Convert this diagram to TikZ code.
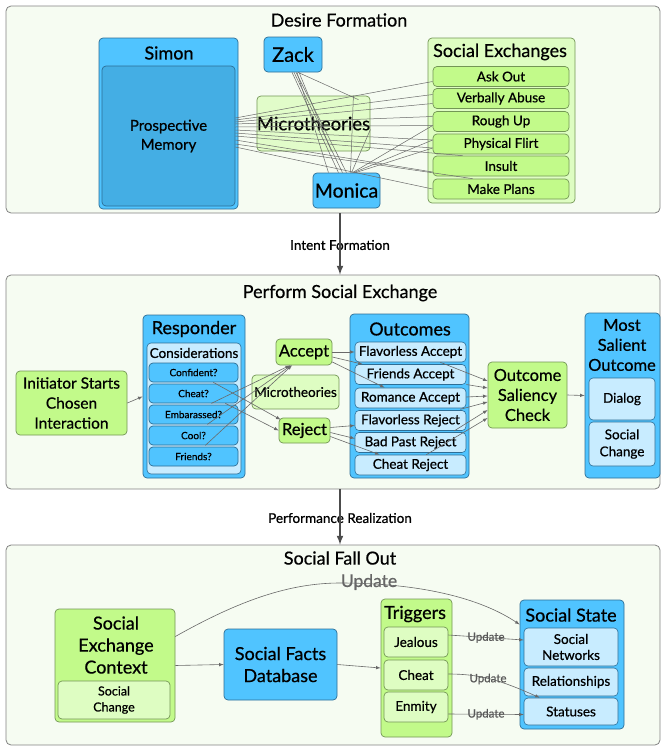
\documentclass[tikz,border=0pt]{standalone}
\usepackage{fontspec}
\setmainfont{Lato}[FakeBold=0.6]
\usepackage{tikz}

\definecolor{panelfill}{RGB}{246,252,242}
\definecolor{framegray}{RGB}{130,130,130}
\definecolor{skyblue}{RGB}{80,196,255}
\definecolor{deepblue}{RGB}{68,174,228}
\definecolor{paleblue}{RGB}{200,236,255}
\definecolor{blueedge}{RGB}{45,110,150}
\definecolor{limegreen}{RGB}{194,250,138}
\definecolor{palegreen}{RGB}{222,253,194}
\definecolor{greenedge}{RGB}{115,150,85}
\definecolor{wiregray}{RGB}{105,105,105}

\newcommand{\fsz}[2]{\fontsize{#1}{#2}\selectfont}

\begin{document}
\begin{tikzpicture}[x=1pt, y=-1pt,
  every node/.style={inner sep=0pt, align=center},
  panel/.style={draw=framegray, fill=panelfill, rounded corners=5pt, line width=0.8pt},
  bluebox/.style={draw=blueedge, fill=skyblue, rounded corners=4pt, line width=0.7pt},
  darkbox/.style={draw=blueedge, fill=deepblue, rounded corners=4pt, line width=0.7pt},
  paleblbox/.style={draw=blueedge, fill=paleblue, rounded corners=4pt, line width=0.6pt},
  greenbox/.style={draw=greenedge, fill=limegreen, rounded corners=4pt, line width=0.7pt},
  palegrbox/.style={draw=greenedge, fill=palegreen, rounded corners=4pt, line width=0.7pt},
  head/.style={font=\fsz{18}{20}},
  wire/.style={draw=wiregray, line width=0.5pt},
  flow/.style={draw=wiregray, line width=0.6pt, -latex},
  phase/.style={draw=black!70, line width=2pt, -latex},
  upd/.style={font=\fsz{11.5}{12}, text=black!65}]

\useasboundingbox (0,0) rectangle (665,750);

% ---- Desire Formation
\node[panel, minimum width=654pt, minimum height=207pt] (P1) at (333,109.5) {};
\node[head] (P1T) at (339,20) {Desire Formation};

\node[bluebox, minimum width=139pt, minimum height=171pt] (simon) at (168.5,123.5) {};
\node[head] (simonT) at (169,53) {Simon};
\node[darkbox, minimum width=133pt, minimum height=140pt, font=\fsz{15}{19}] (memory) at (168.5,136) {Prospective\\Memory};

\node[bluebox, minimum width=58pt, minimum height=35pt, font=\fsz{20}{20}] (zack) at (293,54.5) {Zack};
\node[palegrbox, fill opacity=0.85, text opacity=1, minimum width=113pt, minimum height=55pt, font=\fsz{18.5}{20}] (micro1) at (313.5,123.5) {Microtheories};
\node[bluebox, minimum width=67pt, minimum height=35pt, font=\fsz{19.5}{20}] (monica) at (346.5,190.5) {Monica};

\node[palegrbox, minimum width=147pt, minimum height=165pt] (socex) at (501.5,120.5) {};
\node[head] (socexT) at (500,52) {Social Exchanges};
\node[greenbox, minimum width=136pt, minimum height=20pt, font=\fsz{13.5}{14}] (askout) at (501,76.5) {Ask Out};
\node[greenbox, minimum width=136pt, minimum height=20pt, font=\fsz{13.5}{14}] (abuse) at (501,98.5) {Verbally Abuse};
\node[greenbox, minimum width=136pt, minimum height=20pt, font=\fsz{13.5}{14}] (rough) at (501,121.5) {Rough Up};
\node[greenbox, minimum width=136pt, minimum height=20pt, font=\fsz{13.5}{14}] (flirt) at (501,144) {Physical Flirt};
\node[greenbox, minimum width=136pt, minimum height=20pt, font=\fsz{13.5}{14}] (insult) at (501,166) {Insult};
\node[greenbox, minimum width=136pt, minimum height=20pt, font=\fsz{13.5}{14}] (plans) at (501,189) {Make Plans};

\draw[wire] ([yshift=18pt]memory.east) -- ([yshift=-5pt]askout.west);
\draw[wire] ([yshift=16pt]memory.east) -- ([yshift=4pt]abuse.west);
\draw[wire] ([yshift=14pt]memory.east) -- ([yshift=-5pt]abuse.west);
\draw[wire] ([yshift=12pt]memory.east) -- ([yshift=5pt]rough.west);
\draw[wire] ([yshift=9pt]memory.east) -- ([yshift=-4pt]rough.west);
\draw[wire] ([yshift=6pt]memory.east) -- ([yshift=4pt]flirt.west);
\draw[wire] ([yshift=3pt]memory.east) -- ([yshift=-4pt]flirt.west);
\draw[wire] (memory.east) -- ([xshift=30pt]insult.north west);
\draw[wire] ([yshift=-4pt]memory.east) -- ([yshift=-6pt]insult.west);
\draw[wire] ([yshift=-8pt]memory.east) -- ([xshift=40pt]plans.north west);
\draw[wire] ([yshift=-11pt]memory.east) -- (plans.west);

\draw[wire] ([xshift=-1pt]zack.south) -- ([xshift=-8pt]monica.north);
\draw[wire] ([xshift=1pt]zack.south) -- ([xshift=-4pt]monica.north);
\draw[wire] ([xshift=3pt]zack.south) -- (monica.north);
\draw[wire] ([xshift=4pt]zack.south) -- ([xshift=-18pt]monica.north);
\draw[wire] ([xshift=5pt]zack.south) -- ([xshift=-12pt,yshift=-4pt]micro1.north east);
\draw[wire] ([xshift=6pt]zack.south) -- ([xshift=18pt]micro1.south);
\draw[wire] ([xshift=4pt]monica.north) -- ([xshift=-17pt]micro1.north east);
\draw[wire] ([xshift=5pt]monica.north) -- ([yshift=-6pt]micro1.east);
\draw[wire] ([xshift=6pt]monica.north) -- ([yshift=-4pt]rough.west);
\draw[wire] ([xshift=7pt]monica.north) -- ([yshift=4pt]flirt.west);
\draw[wire] ([xshift=9pt]monica.north) -- ([yshift=-4pt]flirt.west);

% ---- Perform Social Exchange
\node[panel, minimum width=654pt, minimum height=214pt] (P2) at (333,382) {};
\node[head] (P2T) at (340,293) {Perform Social Exchange};

\node[greenbox, minimum width=111pt, minimum height=64pt, font=\fsz{15.5}{20}] (init) at (71.5,403) {Initiator Starts\\Chosen\\Interaction};

\node[bluebox, minimum width=102pt, minimum height=163pt] (resp) at (194,396.5) {};
\node[head] (respT) at (194,329) {Responder};
\node[paleblbox, minimum width=94pt, minimum height=131pt] (consid) at (194,408.5) {};
\node[font=\fsz{13.5}{14}] (considT) at (194,353) {Considerations};
\node[bluebox, minimum width=89pt, minimum height=19pt, font=\fsz{10}{10}] (conf) at (193.5,372.5) {Confident?};
\node[bluebox, minimum width=89pt, minimum height=19pt, font=\fsz{10}{10}] (cheat) at (193.5,393.5) {Cheat?};
\node[bluebox, minimum width=89pt, minimum height=19pt, font=\fsz{10}{10}] (embar) at (193.5,414.5) {Embarassed?};
\node[bluebox, minimum width=89pt, minimum height=19pt, font=\fsz{10}{10}] (cool) at (193.5,435.5) {Cool?};
\node[bluebox, minimum width=89pt, minimum height=19pt, font=\fsz{10}{10}] (friends) at (193.5,456.5) {Friends?};

\node[greenbox, minimum width=56pt, minimum height=26pt, font=\fsz{16.5}{16}] (accept) at (304,352) {Accept};
\node[palegrbox, minimum width=87pt, minimum height=34pt, font=\fsz{13.5}{14}] (micro2) at (295.5,392) {Microtheories};
\node[greenbox, minimum width=51pt, minimum height=25pt, font=\fsz{16.5}{16}] (reject) at (304.5,430.5) {Reject};

\node[bluebox, minimum width=119pt, minimum height=164pt] (outc) at (409.5,396) {};
\node[head] (outcT) at (410,329) {Outcomes};
\node[paleblbox, minimum width=111pt, minimum height=20pt, font=\fsz{13.5}{14}] (flacc) at (410.5,352) {Flavorless Accept};
\node[paleblbox, minimum width=111pt, minimum height=20pt, font=\fsz{13.5}{14}] (fracc) at (410.5,374.5) {Friends Accept};
\node[paleblbox, minimum width=111pt, minimum height=20pt, font=\fsz{13.5}{14}] (roacc) at (410.5,398) {Romance Accept};
\node[paleblbox, minimum width=111pt, minimum height=20pt, font=\fsz{13.5}{14}] (flrej) at (410.5,420.5) {Flavorless Reject};
\node[paleblbox, minimum width=111pt, minimum height=20pt, font=\fsz{13.5}{14}] (bprej) at (410.5,442.5) {Bad Past Reject};
\node[paleblbox, minimum width=111pt, minimum height=20pt, font=\fsz{13.5}{14}] (chrej) at (410.5,465) {Cheat Reject};

\node[greenbox, minimum width=79pt, minimum height=66pt, font=\fsz{16.5}{20}] (salien) at (527.5,395) {Outcome\\Saliency\\Check};

\node[bluebox, minimum width=75pt, minimum height=165pt] (most) at (622.5,395.5) {};
\node[font=\fsz{16.5}{20}] (mostT) at (622,345) {Most\\Salient\\Outcome};
\node[paleblbox, minimum width=66pt, minimum height=42pt, font=\fsz{13.5}{14}] (dialog) at (622,399) {Dialog};
\node[paleblbox, minimum width=66pt, minimum height=44pt, font=\fsz{13.5}{17}] (schange1) at (622,444) {Social\\Change};

\draw[flow] (init.east) -- (resp.west);
\draw[flow] ([xshift=-25pt]conf.south east) -- ([xshift=2pt,yshift=-2pt]reject.north west);
\draw[flow] ([xshift=-13pt]cheat.south east) -- (reject.west);
\draw[flow] ([xshift=-27pt]cheat.south east) -- ([xshift=-14pt]accept.south);
\draw[flow] ([xshift=-31pt]embar.south east) -- ([xshift=-13pt]accept.south);
\draw[flow] ([xshift=-33pt]cool.south east) -- ([xshift=-12pt]accept.south);
\draw[flow] (accept.east) -- (flacc.west);
\draw[flow] ([yshift=-5pt]accept.east) -- ([xshift=8pt]fracc.north west);
\draw[flow] ([yshift=-10pt]accept.east) -- ([xshift=30pt]roacc.north west);
\draw[flow] ([yshift=3pt]reject.east) -- ([yshift=-5pt]flrej.west);
\draw[flow] ([yshift=-2pt]reject.east) -- ([yshift=4pt]bprej.west);
\draw[flow] ([yshift=-6pt]reject.east) -- ([xshift=25pt]chrej.north west);
\draw[flow] ([xshift=-26pt]flacc.south east) -- ([yshift=14pt]salien.west);
\draw[flow] ([yshift=-10pt]fracc.east) -- ([yshift=7pt]salien.west);
\draw[flow] ([yshift=1pt]roacc.east) -- ([yshift=-1pt]salien.west);
\draw[flow] ([xshift=-6pt,yshift=-1pt]roacc.south east) -- ([yshift=-7pt]salien.west);
\draw[flow] ([xshift=-12pt]flrej.south east) -- ([yshift=-15pt]salien.west);
\draw[flow] ([xshift=-40pt]chrej.north east) -- ([yshift=-23pt]salien.west);
\draw[flow] (salien.east) -- (most.west);

% ---- Social Fall Out
\node[panel, minimum width=654pt, minimum height=200pt] (P3) at (333,645) {};
\node[head] (P3T) at (340,558) {Social Fall Out};

\node[greenbox, minimum width=120pt, minimum height=113pt] (secx) at (115,665.5) {};
\node[font=\fsz{18}{22}] (secxT) at (116,645) {Social\\Exchange\\Context};
\node[palegrbox, minimum width=112pt, minimum height=38pt, font=\fsz{12.5}{16}] (schange2) at (114,700) {Social\\Change};

\node[bluebox, minimum width=113pt, minimum height=71pt, font=\fsz{18}{22}] (facts) at (280.5,664.5) {Social Facts\\Database};

\node[greenbox, minimum width=71pt, minimum height=138pt] (trig) at (416.5,668) {};
\node[head] (trigT) at (415,614) {Triggers};
\node[palegrbox, minimum width=64pt, minimum height=30pt, font=\fsz{13.5}{14}] (jealous) at (416,642) {Jealous};
\node[palegrbox, minimum width=64pt, minimum height=30pt, font=\fsz{13.5}{14}] (cheat2) at (416,675) {Cheat};
\node[palegrbox, minimum width=64pt, minimum height=30pt, font=\fsz{13.5}{14}] (enmity) at (416,707) {Enmity};

\node[bluebox, minimum width=104pt, minimum height=129pt] (state) at (572,664.5) {};
\node[head] (stateT) at (571,615) {Social State};
\node[paleblbox, minimum width=94pt, minimum height=38pt, font=\fsz{13.5}{16}] (networks) at (571,647) {Social\\Networks};
\node[paleblbox, minimum width=94pt, minimum height=28pt, font=\fsz{13.5}{14}] (relat) at (571,682) {Relationships};
\node[paleblbox, minimum width=94pt, minimum height=27pt, font=\fsz{13.5}{14}] (status) at (571,711.5) {Statuses};

\node[font=\fsz{17.5}{18}, text=black!60] (updT) at (369,582) {Update};

\draw[flow] (secx.east) -- (facts.west);
\draw[flow] (facts.east) -- (trig.west);
\draw[flow] ([yshift=29pt]secx.east) .. controls (240,600) and (290,583) .. (340,583)
  .. controls (420,583) and (480,598) .. ([yshift=40pt]state.west);
\draw[flow] ([yshift=7pt]jealous.east) -- node[upd] (upd1) {Update} ([yshift=7pt]networks.west);
\draw[flow] ([yshift=1pt]cheat2.east) .. controls (480,674) and (500,680) .. ([xshift=16pt]status.north west);
\node[upd] (upd2) at (488,679) {Update};
\draw[flow] ([yshift=-7pt]enmity.east) -- node[upd] (upd3) {Update} ([yshift=-3pt]status.west);

% ---- phases
\node[font=\fsz{13.5}{14}] (intent) at (340,245) {Intent Formation};
\node[font=\fsz{13.5}{14}] (realiz) at (340,518) {Performance Realization};
\draw[phase] ([xshift=7pt]P1.south) -- ([xshift=7pt]P2.north);
\draw[phase] ([xshift=7pt]P2.south) -- ([xshift=7pt]P3.north);

\end{tikzpicture}
\end{document}
